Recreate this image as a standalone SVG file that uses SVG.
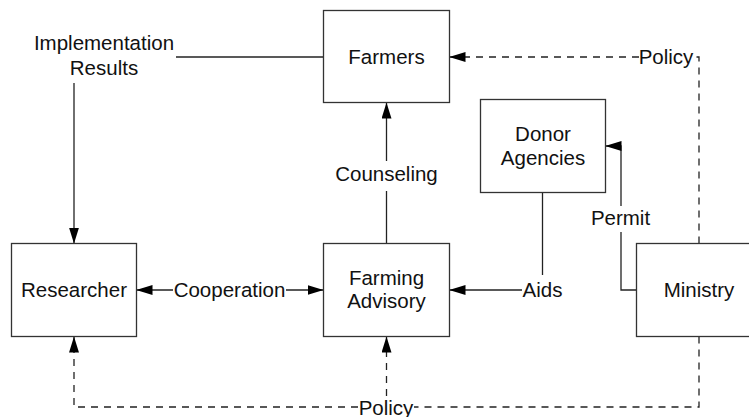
<svg xmlns="http://www.w3.org/2000/svg" width="749" height="417" viewBox="0 0 749 417">
<style>
.box{fill:#fff;stroke:#333;stroke-width:1.3}
.t{font-family:"Liberation Sans",Arial,sans-serif;font-size:20.5px;fill:#111;text-anchor:middle}
.c{fill:none;stroke:#222;stroke-width:1.3}
.d{fill:none;stroke:#222;stroke-width:1.3;stroke-dasharray:7,6}
</style>
<defs>
<marker id="ah" viewBox="0 0 16 10" refX="16" refY="5" markerWidth="16" markerHeight="10" markerUnits="userSpaceOnUse" orient="auto">
<path d="M0,0 L16,5 L0,10 z" fill="#000"/>
</marker>
</defs>
<rect width="749" height="417" fill="#fff"/>
<g id="connectors">
<path class="c" d="M176,57 H323.5"/>
<path class="c" d="M74,83 V243.5" marker-end="url(#ah)"/>
<path class="c" d="M386.5,243.5 V191"/>
<path class="c" d="M386.5,161 V102.5" marker-end="url(#ah)"/>
<path class="c" d="M173,290 H136.5" marker-end="url(#ah)"/>
<path class="c" d="M286,290 H323.5" marker-end="url(#ah)"/>
<path class="c" d="M542.5,192.5 V275"/>
<path class="c" d="M522,290 H449.5" marker-end="url(#ah)"/>
<path class="c" d="M636.5,290 H621 V232"/>
<path class="c" d="M621,206 V146 H605.5" marker-end="url(#ah)"/>
<path class="d" d="M699,243.5 V57 H694"/>
<path class="d" d="M639,57 H449.5" marker-end="url(#ah)"/>
<path class="d" d="M699,336.5 V407 H414"/>
<path class="d" d="M358,407 H74 V336.5" marker-end="url(#ah)"/>
<path class="d" d="M386.5,396 V336.5" marker-end="url(#ah)"/>
<text class="t" x="104" y="50">Implementation</text>
<text class="t" x="104" y="75">Results</text>
<text class="t" x="386.5" y="181">Counseling</text>
<text class="t" x="229.5" y="297">Cooperation</text>
<text class="t" x="542.5" y="297">Aids</text>
<text class="t" x="620.5" y="225">Permit</text>
<text class="t" x="666" y="64">Policy</text>
<text class="t" x="386" y="414.5">Policy</text>
</g>
<g id="farmers"><rect class="box" x="323.5" y="10.5" width="126" height="92"/><text class="t" x="386.5" y="64">Farmers</text></g>
<g id="donor"><rect class="box" x="480.5" y="99.5" width="125" height="93"/><text class="t" x="543" y="140.5">Donor</text><text class="t" x="543" y="165">Agencies</text></g>
<g id="researcher"><rect class="box" x="11.5" y="243.5" width="125" height="93"/><text class="t" x="74" y="297">Researcher</text></g>
<g id="advisory"><rect class="box" x="323.5" y="243.5" width="126" height="93"/><text class="t" x="386.5" y="284.5">Farming</text><text class="t" x="386.5" y="308">Advisory</text></g>
<g id="ministry"><rect class="box" x="636.5" y="243.5" width="126" height="93"/><text class="t" x="699" y="297">Ministry</text></g>
</svg>
